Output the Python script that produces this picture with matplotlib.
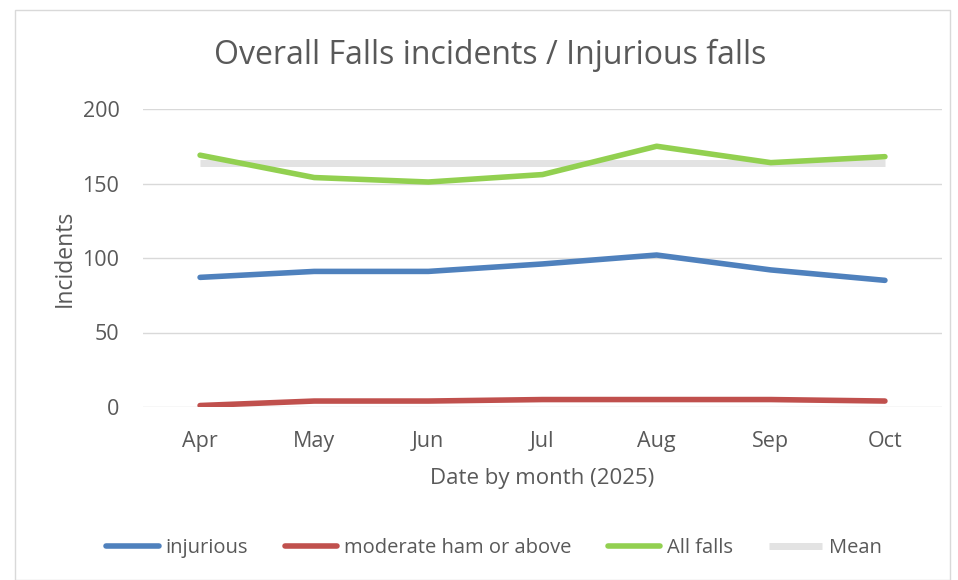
import matplotlib
matplotlib.use("Agg")
import matplotlib.pyplot as plt
from matplotlib.patches import Rectangle

months = ["Apr", "May", "Jun", "Jul", "Aug", "Sep", "Oct"]
injurious = [87, 91, 91, 96, 102, 92, 85]
moderate = [1, 4, 4, 5, 5, 5, 4]
all_falls = [169, 154, 151, 156, 175, 164, 168]
mean = [163.5] * 7
yticks = [0, 50, 100, 150, 200]

TXT = "#595959"
plt.rcParams["font.family"] = ["Open Sans", "DejaVu Sans"]

fig = plt.figure(figsize=(9.58, 5.8), dpi=100)
fig.patches.append(Rectangle((15 / 958, 0.0), 935 / 958, 1 - 10 / 580, transform=fig.transFigure,
                             fill=False, edgecolor="#d9d9d9", lw=1.0))
ax = fig.add_axes((143 / 958, 1 - 407 / 580, 799 / 958, 298 / 580))

x = range(len(months))
ax.plot(x, mean, color="#e3e3e3", lw=5, solid_capstyle="butt", label="Mean", zorder=2)
ax.plot(x, injurious, color="#4f81bd", lw=4, solid_capstyle="round", label="injurious", zorder=3)
ax.plot(x, moderate, color="#c0504d", lw=4, solid_capstyle="round", label="moderate ham or above", zorder=3)
ax.plot(x, all_falls, color="#92d050", lw=4, solid_capstyle="round", label="All falls", zorder=3)

ax.set_xlim(-0.5, len(months) - 0.5)
ax.set_ylim(0, 200)
ax.set_yticks(yticks)
ax.set_xticks(list(x))
ax.set_xticklabels(months)
ax.grid(axis="y", color="#d9d9d9", lw=1)
ax.set_axisbelow(True)
for s in ax.spines.values():
    s.set_visible(False)
ax.tick_params(length=0, labelsize=15.5, labelcolor=TXT)
ax.tick_params(axis="x", pad=17)
ax.tick_params(axis="y", pad=17)

ax.set_ylabel("Incidents", fontsize=16.5, color=TXT, labelpad=4)
ax.set_xlabel("Date by month (2025)", fontsize=16, color=TXT, labelpad=12)
fig.text(490 / 958, 1 - 55 / 580, "Overall Falls incidents / Injurious falls", fontsize=23,
         color=TXT, ha="center", va="center")

h, l = ax.get_legend_handles_labels()
order = [1, 2, 3, 0]
ax.legend([h[i] for i in order], [l[i] for i in order], loc="center",
          bbox_to_anchor=(494 / 958, 1 - 548 / 580), bbox_transform=fig.transFigure,
          ncol=4, frameon=False, fontsize=14.5, labelcolor=TXT, handlelength=2.6,
          handletextpad=0.35, columnspacing=1.8)

fig.savefig("out.png", dpi=100)
